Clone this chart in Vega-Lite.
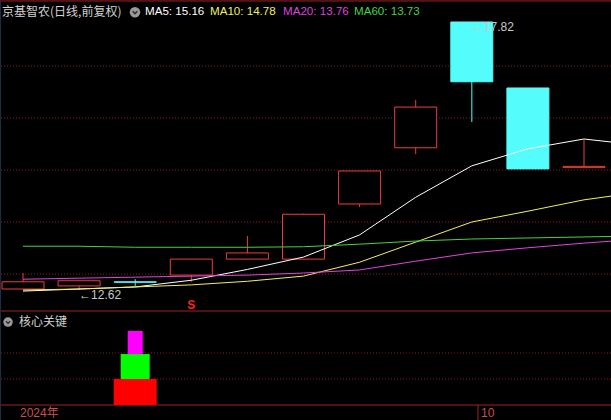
{
  "$schema": "https://vega.github.io/schema/vega-lite/v6.json",
  "width": 611,
  "height": 420,
  "padding": 0,
  "autosize": {"type": "none"},
  "background": "#000000",
  "config": {"view": {"stroke": null}, "text": {"font": "Liberation Sans", "fontSize": 12}, "scale": {"continuousPadding": 0}},
  "datasets": {
    "candles": [
      {"i": 0, "open": 12.64, "high": 12.95, "low": 12.64, "close": 12.78},
      {"i": 1, "open": 12.70, "high": 12.80, "low": 12.62, "close": 12.80},
      {"i": 2, "open": 12.78, "high": 12.83, "low": 12.70, "close": 12.77},
      {"i": 3, "open": 12.91, "high": 13.22, "low": 12.78, "close": 13.22},
      {"i": 4, "open": 13.22, "high": 13.67, "low": 13.22, "close": 13.34},
      {"i": 5, "open": 13.22, "high": 14.10, "low": 13.22, "close": 14.09},
      {"i": 6, "open": 14.29, "high": 14.93, "low": 14.23, "close": 14.93},
      {"i": 7, "open": 15.38, "high": 16.31, "low": 15.26, "close": 16.17},
      {"i": 8, "open": 17.82, "high": 17.82, "low": 15.88, "close": 16.66},
      {"i": 9, "open": 16.54, "high": 16.54, "low": 14.97, "close": 14.97},
      {"i": 10, "open": 15.00, "high": 15.53, "low": 15.00, "close": 15.02}
    ],
    "ma": [
      {"i": 0, "ma5": 12.60, "ma10": 12.62, "ma20": 12.83, "ma60": 13.47},
      {"i": 1, "ma5": 12.64, "ma10": 12.64, "ma20": 12.85, "ma60": 13.47},
      {"i": 2, "ma5": 12.68, "ma10": 12.68, "ma20": 12.87, "ma60": 13.45},
      {"i": 3, "ma5": 12.81, "ma10": 12.72, "ma20": 12.89, "ma60": 13.45},
      {"i": 4, "ma5": 13.02, "ma10": 12.79, "ma20": 12.91, "ma60": 13.45},
      {"i": 5, "ma5": 13.26, "ma10": 12.89, "ma20": 12.95, "ma60": 13.46},
      {"i": 6, "ma5": 13.69, "ma10": 13.16, "ma20": 13.01, "ma60": 13.51},
      {"i": 7, "ma5": 14.42, "ma10": 13.55, "ma20": 13.18, "ma60": 13.57},
      {"i": 8, "ma5": 15.03, "ma10": 13.94, "ma20": 13.34, "ma60": 13.61},
      {"i": 9, "ma5": 15.36, "ma10": 14.15, "ma20": 13.44, "ma60": 13.63},
      {"i": 10, "ma5": 15.55, "ma10": 14.37, "ma20": 13.53, "ma60": 13.65},
      {"i": 11, "ma5": 15.43, "ma10": 14.52, "ma20": 13.61, "ma60": 13.67}
    ],
    "gridMain": [{"p": 12.93}, {"p": 13.94}, {"p": 14.948}, {"p": 15.957}, {"p": 16.966}],
    "gridLow": [{"v": 1}, {"v": 2}],
    "frame": [{"v": 15.54}, {"v": 3.615}, {"v": 0}],
    "extremes": [
      {"i": 1, "p": 12.62, "label": "←12.62"},
      {"i": 8, "p": 17.82, "label": "←17.82"}
    ],
    "signals": [{"i": 3, "p": 12.78, "label": "S"}],
    "header": [
      {"i": -0.374, "p": 18.01, "key": "name", "text": "京基智农(日线,前复权)"},
      {"i": 2.175, "p": 18.01, "key": "ma5", "text": "MA5: 15.16"},
      {"i": 3.333, "p": 18.01, "key": "ma10", "text": "MA10: 14.78"},
      {"i": 4.635, "p": 18.01, "key": "ma20", "text": "MA20: 13.76"},
      {"i": 5.9, "p": 18.01, "key": "ma60", "text": "MA60: 13.73"}
    ],
    "headerIcon": [{"i": 1.996, "p": 18.01}],
    "core": [
      {"i": 2, "level": "L1", "lo": 0, "hi": 1},
      {"i": 2, "level": "L2", "lo": 1, "hi": 1.96},
      {"i": 2, "level": "L3", "lo": 1.96, "hi": 2.85}
    ],
    "coreHeader": [{"i": -0.071, "v": 3.19, "text": "核心关键"}],
    "coreIcon": [{"i": -0.267, "v": 3.19}],
    "dates": [
      {"i": -0.0535, "v": -0.31, "label": "2024年"},
      {"i": 8.164, "v": -0.31, "label": "10"}
    ],
    "dateTicks": [{"i": 8.11, "v": 0, "v2": -0.6}]
  },
  "layer": [
    {
      "layer": [
        {
          "data": {"name": "gridMain"},
          "mark": {"type": "rule", "color": "#8a1c1c", "strokeDash": [1, 2], "strokeWidth": 1},
          "encoding": {
            "y": {"field": "p", "type": "quantitative", "scale": {"domain": [12, 18], "range": [322, 12.72], "nice": false, "zero": false}, "axis": null}
          }
        },
        {
          "data": {"name": "candles"},
          "mark": {"type": "rule", "strokeWidth": 1},
          "encoding": {
            "x": {"field": "i", "type": "quantitative", "scale": {"domain": [-0.41, 10.481], "nice": false, "zero": false, "padding": 0}, "axis": null},
            "y": {"field": "low", "type": "quantitative", "scale": {"domain": [12, 18], "range": [322, 12.72], "nice": false, "zero": false}, "axis": null},
            "y2": {"field": "high"},
            "color": {"condition": {"test": "datum.open > datum.close", "value": "#54fcfc"}, "value": "#f03c3c"}
          }
        },
        {
          "data": {"name": "candles"},
          "mark": {"type": "bar", "orient": "vertical", "width": 42, "strokeWidth": 1},
          "encoding": {
            "x": {"field": "i", "type": "quantitative", "scale": {"domain": [-0.41, 10.481], "nice": false, "zero": false, "padding": 0}, "axis": null},
            "y": {"field": "open", "type": "quantitative", "scale": {"domain": [12, 18], "range": [322, 12.72], "nice": false, "zero": false}, "axis": null},
            "y2": {"field": "close"},
            "fill": {"condition": {"test": "datum.open > datum.close", "value": "#54fcfc"}, "value": "#000000"},
            "stroke": {"condition": {"test": "datum.open > datum.close", "value": "#54fcfc"}, "value": "#f03c3c"}
          }
        },
        {
          "data": {"name": "ma"},
          "transform": [{"fold": ["ma5", "ma10", "ma20", "ma60"], "as": ["key", "v"]}],
          "mark": {"type": "line", "strokeWidth": 1, "clip": true},
          "encoding": {
            "x": {"field": "i", "type": "quantitative", "scale": {"domain": [-0.41, 10.481], "nice": false, "zero": false, "padding": 0}, "axis": null},
            "y": {"field": "v", "type": "quantitative", "scale": {"domain": [12, 18], "range": [322, 12.72], "nice": false, "zero": false}, "axis": null},
            "color": {"field": "key", "type": "nominal", "scale": {"domain": ["ma5", "ma10", "ma20", "ma60", "name"], "range": ["#ffffff", "#f0f064", "#dc46dc", "#46d246", "#d2d2d2"]}, "legend": null}
          }
        },
        {
          "data": {"name": "extremes"},
          "mark": {"type": "text", "align": "left", "baseline": "middle", "dy": 5, "color": "#c8c8c8", "font": "Liberation Sans, DejaVu Sans", "fontSize": 12},
          "encoding": {
            "x": {"field": "i", "type": "quantitative", "scale": {"domain": [-0.41, 10.481], "nice": false, "zero": false, "padding": 0}, "axis": null},
            "y": {"field": "p", "type": "quantitative", "scale": {"domain": [12, 18], "range": [322, 12.72], "nice": false, "zero": false}, "axis": null},
            "text": {"field": "label"}
          }
        },
        {
          "data": {"name": "signals"},
          "mark": {"type": "text", "align": "center", "baseline": "middle", "dy": 23, "color": "#ff2020", "fontWeight": "bold", "fontSize": 12},
          "encoding": {
            "x": {"field": "i", "type": "quantitative", "scale": {"domain": [-0.41, 10.481], "nice": false, "zero": false, "padding": 0}, "axis": null},
            "y": {"field": "p", "type": "quantitative", "scale": {"domain": [12, 18], "range": [322, 12.72], "nice": false, "zero": false}, "axis": null},
            "text": {"field": "label"}
          }
        },
        {
          "data": {"name": "header"},
          "transform": [{"filter": "datum.key == 'name'"}],
          "mark": {"type": "text", "align": "left", "baseline": "middle", "font": "Noto Sans CJK SC", "fontSize": 12},
          "encoding": {
            "x": {"field": "i", "type": "quantitative", "scale": {"domain": [-0.41, 10.481], "nice": false, "zero": false, "padding": 0}, "axis": null},
            "y": {"field": "p", "type": "quantitative", "scale": {"domain": [12, 18], "range": [322, 12.72], "nice": false, "zero": false}, "axis": null},
            "text": {"field": "text"},
            "color": {"field": "key", "type": "nominal", "scale": {"domain": ["ma5", "ma10", "ma20", "ma60", "name"], "range": ["#ffffff", "#f0f064", "#dc46dc", "#46d246", "#d2d2d2"]}, "legend": null}
          }
        },
        {
          "data": {"name": "header"},
          "transform": [{"filter": "datum.key != 'name'"}],
          "mark": {"type": "text", "align": "left", "baseline": "middle", "font": "Liberation Sans", "fontSize": 11.6},
          "encoding": {
            "x": {"field": "i", "type": "quantitative", "scale": {"domain": [-0.41, 10.481], "nice": false, "zero": false, "padding": 0}, "axis": null},
            "y": {"field": "p", "type": "quantitative", "scale": {"domain": [12, 18], "range": [322, 12.72], "nice": false, "zero": false}, "axis": null},
            "text": {"field": "text"},
            "color": {"field": "key", "type": "nominal", "scale": {"domain": ["ma5", "ma10", "ma20", "ma60", "name"], "range": ["#ffffff", "#f0f064", "#dc46dc", "#46d246", "#d2d2d2"]}, "legend": null}
          }
        },
        {
          "data": {"name": "headerIcon"},
          "mark": {"type": "point", "shape": "circle", "filled": true, "size": 110, "color": "#9a9a9a", "opacity": 1},
          "encoding": {
            "x": {"field": "i", "type": "quantitative", "scale": {"domain": [-0.41, 10.481], "nice": false, "zero": false, "padding": 0}, "axis": null},
            "y": {"field": "p", "type": "quantitative", "scale": {"domain": [12, 18], "range": [322, 12.72], "nice": false, "zero": false}, "axis": null}
          }
        },
        {
          "data": {"name": "headerIcon"},
          "mark": {"type": "point", "shape": "M-0.6,-0.25L0,0.35L0.6,-0.25", "filled": false, "size": 64, "color": "#333333", "strokeWidth": 1.5, "opacity": 1},
          "encoding": {
            "x": {"field": "i", "type": "quantitative", "scale": {"domain": [-0.41, 10.481], "nice": false, "zero": false, "padding": 0}, "axis": null},
            "y": {"field": "p", "type": "quantitative", "scale": {"domain": [12, 18], "range": [322, 12.72], "nice": false, "zero": false}, "axis": null}
          }
        }
      ]
    },
    {
      "layer": [
        {
          "data": {"name": "gridLow"},
          "mark": {"type": "rule", "color": "#8a1c1c", "strokeDash": [1, 2], "strokeWidth": 1},
          "encoding": {
            "y": {"field": "v", "type": "quantitative", "scale": {"domain": [0, 4], "range": [405, 301], "nice": false, "zero": false}, "axis": null}
          }
        },
        {
          "data": {"name": "frame"},
          "mark": {"type": "rule", "color": "#a02222", "strokeWidth": 1},
          "encoding": {
            "y": {"field": "v", "type": "quantitative", "scale": {"domain": [0, 4], "range": [405, 301], "nice": false, "zero": false}, "axis": null}
          }
        },
        {
          "data": {"name": "coreIcon"},
          "mark": {"type": "rule", "color": "#1c3048", "strokeWidth": 1},
          "encoding": {
            "x": {"datum": -0.4, "type": "quantitative", "scale": {"domain": [-0.41, 10.481], "nice": false, "zero": false, "padding": 0}, "axis": null}
          }
        },
        {
          "data": {"name": "core"},
          "transform": [{"filter": "datum.level == 'L1'"}],
          "mark": {"type": "bar", "orient": "vertical", "width": 43, "color": "#ff0000"},
          "encoding": {
            "x": {"field": "i", "type": "quantitative", "scale": {"domain": [-0.41, 10.481], "nice": false, "zero": false, "padding": 0}, "axis": null},
            "y": {"field": "lo", "type": "quantitative", "scale": {"domain": [0, 4], "range": [405, 301], "nice": false, "zero": false}, "axis": null},
            "y2": {"field": "hi"}
          }
        },
        {
          "data": {"name": "core"},
          "transform": [{"filter": "datum.level == 'L2'"}],
          "mark": {"type": "bar", "orient": "vertical", "width": 29, "color": "#00ff00"},
          "encoding": {
            "x": {"field": "i", "type": "quantitative", "scale": {"domain": [-0.41, 10.481], "nice": false, "zero": false, "padding": 0}, "axis": null},
            "y": {"field": "lo", "type": "quantitative", "scale": {"domain": [0, 4], "range": [405, 301], "nice": false, "zero": false}, "axis": null},
            "y2": {"field": "hi"}
          }
        },
        {
          "data": {"name": "core"},
          "transform": [{"filter": "datum.level == 'L3'"}],
          "mark": {"type": "bar", "orient": "vertical", "width": 15, "color": "#ff00ff"},
          "encoding": {
            "x": {"field": "i", "type": "quantitative", "scale": {"domain": [-0.41, 10.481], "nice": false, "zero": false, "padding": 0}, "axis": null},
            "y": {"field": "lo", "type": "quantitative", "scale": {"domain": [0, 4], "range": [405, 301], "nice": false, "zero": false}, "axis": null},
            "y2": {"field": "hi"}
          }
        },
        {
          "data": {"name": "coreIcon"},
          "mark": {"type": "point", "shape": "circle", "filled": true, "size": 90, "color": "#9a9a9a", "opacity": 1},
          "encoding": {
            "x": {"field": "i", "type": "quantitative", "scale": {"domain": [-0.41, 10.481], "nice": false, "zero": false, "padding": 0}, "axis": null},
            "y": {"field": "v", "type": "quantitative", "scale": {"domain": [0, 4], "range": [405, 301], "nice": false, "zero": false}, "axis": null}
          }
        },
        {
          "data": {"name": "coreIcon"},
          "mark": {"type": "point", "shape": "M-0.6,-0.25L0,0.35L0.6,-0.25", "filled": false, "size": 50, "color": "#333333", "strokeWidth": 1.5, "opacity": 1},
          "encoding": {
            "x": {"field": "i", "type": "quantitative", "scale": {"domain": [-0.41, 10.481], "nice": false, "zero": false, "padding": 0}, "axis": null},
            "y": {"field": "v", "type": "quantitative", "scale": {"domain": [0, 4], "range": [405, 301], "nice": false, "zero": false}, "axis": null}
          }
        },
        {
          "data": {"name": "coreHeader"},
          "mark": {"type": "text", "align": "left", "baseline": "middle", "font": "Noto Sans CJK SC", "fontSize": 12, "color": "#d2d2d2"},
          "encoding": {
            "x": {"field": "i", "type": "quantitative", "scale": {"domain": [-0.41, 10.481], "nice": false, "zero": false, "padding": 0}, "axis": null},
            "y": {"field": "v", "type": "quantitative", "scale": {"domain": [0, 4], "range": [405, 301], "nice": false, "zero": false}, "axis": null},
            "text": {"field": "text"}
          }
        },
        {
          "data": {"name": "dateTicks"},
          "mark": {"type": "rule", "color": "#a02222", "strokeWidth": 1},
          "encoding": {
            "x": {"field": "i", "type": "quantitative", "scale": {"domain": [-0.41, 10.481], "nice": false, "zero": false, "padding": 0}, "axis": null},
            "y": {"field": "v", "type": "quantitative", "scale": {"domain": [0, 4], "range": [405, 301], "nice": false, "zero": false}, "axis": null},
            "y2": {"field": "v2"}
          }
        },
        {
          "data": {"name": "dates"},
          "mark": {"type": "text", "align": "left", "baseline": "middle", "font": "Liberation Sans, Noto Sans CJK SC", "fontSize": 12, "color": "#c85050"},
          "encoding": {
            "x": {"field": "i", "type": "quantitative", "scale": {"domain": [-0.41, 10.481], "nice": false, "zero": false, "padding": 0}, "axis": null},
            "y": {"field": "v", "type": "quantitative", "scale": {"domain": [0, 4], "range": [405, 301], "nice": false, "zero": false}, "axis": null},
            "text": {"field": "label"}
          }
        }
      ]
    }
  ],
  "resolve": {"scale": {"y": "independent", "color": "independent"}}
}
